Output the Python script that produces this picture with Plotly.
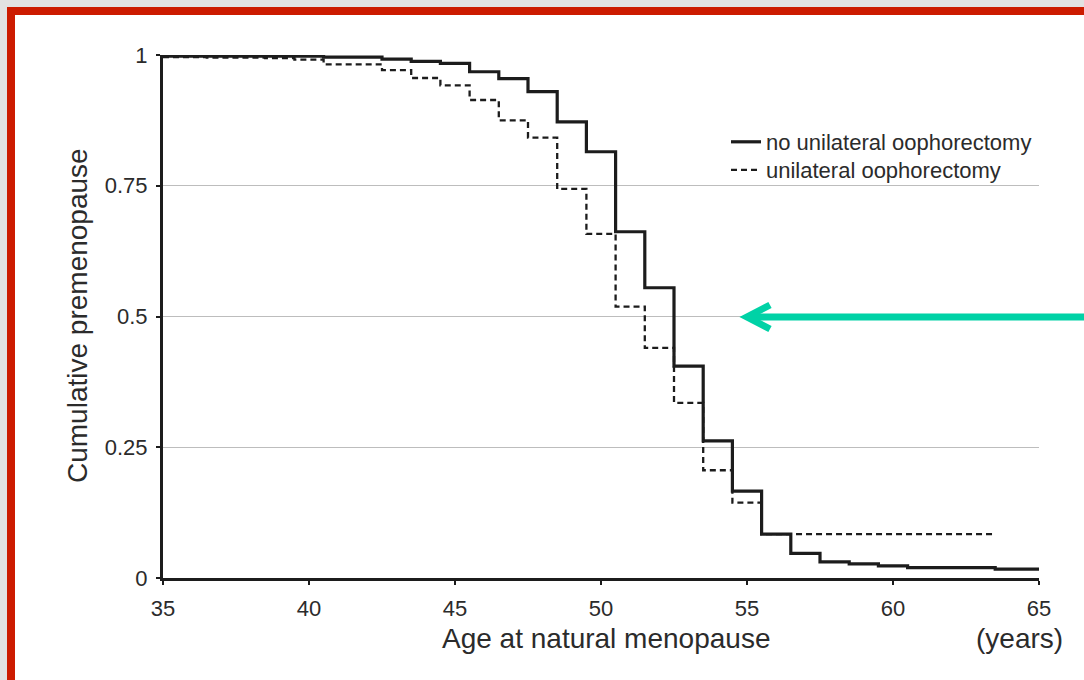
import plotly.graph_objects as go

# ---- data ----
solid_age = [35, 40.5, 42.5, 43.5, 44.5, 45.5, 46.5, 47.5, 48.5, 49.5, 50.5, 51.5,
             52.5, 53.5, 54.5, 55.5, 56.5, 57.5, 58.5, 59.5, 60.5, 63.5, 65]
solid_surv = [0.998, 0.996, 0.992, 0.988, 0.984, 0.968, 0.955, 0.930, 0.872, 0.815,
              0.662, 0.555, 0.405, 0.262, 0.166, 0.084, 0.047, 0.031, 0.027, 0.023,
              0.020, 0.017, 0.017]

dashed_age = [35, 36.5, 38.5, 39.5, 40.5, 42.5, 43.5, 44.5, 45.5, 46.5, 47.5, 48.5, 49.5,
              50.5, 51.5, 52.5, 53.5, 54.5, 55.5, 63.5]
dashed_surv = [0.996, 0.995, 0.994, 0.991, 0.982, 0.971, 0.956, 0.942, 0.914, 0.875, 0.842,
               0.744, 0.658, 0.519, 0.440, 0.335, 0.206, 0.144, 0.084, 0.084]

series_names = ["no unilateral oophorectomy", "unilateral oophorectomy"]
x_ticks = [35, 40, 45, 50, 55, 60, 65]
y_ticks = [0, 0.25, 0.5, 0.75, 1]
y_tick_text = ["0", "0.25", "0.5", "0.75", "1"]

# ---- layout geometry (pixels) ----
W, H = 1084, 680
L, R, T, B = 163, 45, 55, 102
PW, PH = W - L - R, H - T - B
FONT = "Liberation Sans, Arial, sans-serif"
TXT = "#2b2b2b"


def px(xp):
    return (xp - L) / PW


def py(yp):
    return (H - B - yp) / PH


fig = go.Figure()
fig.add_trace(go.Scatter(x=solid_age, y=solid_surv, mode="lines", name=series_names[0],
                         legend="legend",
                         line=dict(shape="hv", color="#1c1c1c", width=3.2)))
fig.add_trace(go.Scatter(x=dashed_age, y=dashed_surv, mode="lines", name=series_names[1],
                         legend="legend2",
                         line=dict(shape="hv", color="#1c1c1c", width=2.3, dash="6px,4px")))

shapes = []
# gray outer strip and red frame
shapes.append(dict(type="rect", xref="paper", yref="paper", x0=px(0), x1=px(W), y0=py(0), y1=py(7),
                   fillcolor="#e2e2e2", line=dict(width=0), layer="below"))
shapes.append(dict(type="rect", xref="paper", yref="paper", x0=px(0), x1=px(7), y0=py(0), y1=py(H),
                   fillcolor="#e2e2e2", line=dict(width=0), layer="below"))
shapes.append(dict(type="rect", xref="paper", yref="paper", x0=px(7), x1=px(W), y0=py(7), y1=py(15),
                   fillcolor="#cc1b00", line=dict(width=0), layer="below"))
shapes.append(dict(type="rect", xref="paper", yref="paper", x0=px(7), x1=px(15), y0=py(7), y1=py(H),
                   fillcolor="#cc1b00", line=dict(width=0), layer="below"))
# teal arrow
shapes.append(dict(type="line", xref="paper", yref="paper", x0=px(W + 2), x1=px(748), y0=py(317), y1=py(317),
                   line=dict(color="#00d2a6", width=7)))
shapes.append(dict(type="path", xref="paper", yref="paper",
                   path=f"M {px(770)} {py(305)} L {px(747)} {py(317)} L {px(770)} {py(329)}",
                   line=dict(color="#00d2a6", width=7)))

annotations = [
    dict(text="Cumulative premenopause", xref="paper", yref="paper", x=px(77), y=py(316),
         textangle=-90, showarrow=False, font=dict(family=FONT, size=28, color=TXT),
         xanchor="center", yanchor="middle"),
    dict(text="Age at natural menopause", xref="paper", yref="paper", x=px(606), y=py(638),
         showarrow=False, font=dict(family=FONT, size=28, color=TXT), xanchor="center", yanchor="middle"),
    dict(text="(years)", xref="paper", yref="paper", x=px(1019), y=py(638),
         showarrow=False, font=dict(family=FONT, size=28, color=TXT), xanchor="center", yanchor="middle"),
]

legend_style = dict(xanchor="left", yanchor="top", bgcolor="rgba(0,0,0,0)", borderwidth=0,
                    itemwidth=30, font=dict(family=FONT, size=22, color=TXT))

fig.update_layout(
    width=W, height=H,
    margin=dict(l=L, r=R, t=T, b=B),
    paper_bgcolor="white", plot_bgcolor="white",
    font=dict(family=FONT, color=TXT),
    shapes=shapes, annotations=annotations,
    showlegend=True,
    legend=dict(x=px(726), y=py(121), **legend_style),
    legend2=dict(x=px(726), y=py(149), **legend_style),
    xaxis=dict(range=[35, 65], tickvals=x_ticks, showgrid=False, zeroline=False,
               showline=True, linecolor="#1c1c1c", linewidth=3,
               ticks="outside", ticklen=4, tickwidth=2, tickcolor="#1c1c1c",
               tickfont=dict(family=FONT, size=22, color=TXT), ticklabelstandoff=5),
    yaxis=dict(range=[0, 1], tickvals=y_ticks, ticktext=y_tick_text, showgrid=True,
               gridcolor="#bdbdbd", gridwidth=1, zeroline=False,
               showline=True, linecolor="#1c1c1c", linewidth=3,
               ticks="outside", ticklen=4, tickwidth=2, tickcolor="#1c1c1c",
               tickfont=dict(family=FONT, size=22, color=TXT), ticklabelstandoff=4),
)

fig.write_html("out.html")
